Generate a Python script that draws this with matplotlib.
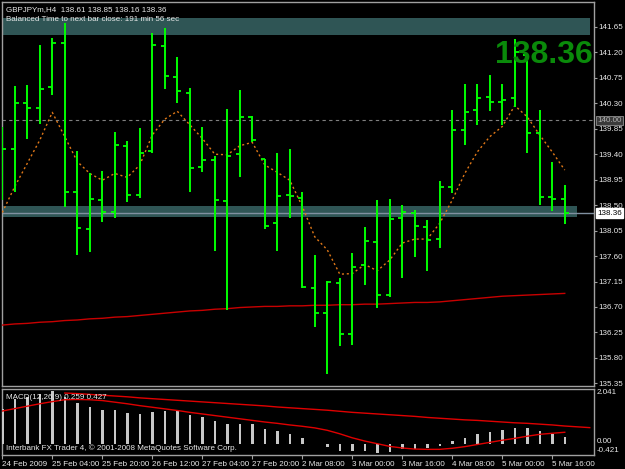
import numpy as np
import matplotlib
matplotlib.use("Agg")
import matplotlib.pyplot as plt
import matplotlib.transforms as mtransforms

plt.rcParams['font.family'] = ['Liberation Sans', 'DejaVu Sans']

# GBPJPYm H4 bars, 24 Feb 2009 12:00 .. 5 Mar 2009 20:00
opens = [139.20, 139.50, 140.31, 140.22, 140.58, 141.37, 138.73, 138.07, 138.59, 138.38,
         139.55, 138.68, 139.46, 141.31, 140.76, 140.49, 139.18, 139.30, 138.58, 139.40,
         140.06, 139.31, 138.18, 138.68, 138.62, 137.04, 136.59, 137.13, 136.22, 137.44,
         137.85, 136.91, 138.28, 138.36, 138.12, 137.90, 138.82, 139.82, 140.18, 140.41,
         140.33, 140.39, 141.15, 139.77, 138.64, 138.61]
highs = [139.88, 140.61, 140.62, 141.33, 141.46, 141.72, 139.46, 139.06, 139.10, 139.79,
         139.64, 139.86, 141.54, 141.64, 141.11, 140.57, 139.89, 139.37, 140.20, 140.54,
         140.08, 139.32, 139.42, 139.49, 138.74, 137.62, 137.16, 137.21, 137.65, 138.12,
         138.59, 138.60, 138.50, 138.41, 138.24, 138.93, 140.18, 140.65, 140.65, 140.80,
         140.65, 141.43, 141.12, 140.18, 139.27, 138.85]
lows = [138.59, 138.74, 139.67, 139.93, 140.45, 138.47, 137.62, 137.67, 138.21, 138.28,
        138.55, 138.62, 139.43, 140.56, 140.31, 138.74, 139.09, 137.69, 136.65, 138.99,
        139.62, 138.07, 137.69, 138.27, 137.04, 136.35, 135.51, 136.01, 136.03, 137.08,
        136.68, 136.87, 137.22, 137.59, 137.34, 137.74, 138.72, 139.56, 139.92, 140.17,
        139.92, 140.24, 139.43, 138.51, 138.40, 138.16]
closes = [139.49, 140.31, 140.21, 140.55, 141.36, 138.73, 138.10, 138.61, 138.38, 139.56,
          138.68, 139.43, 141.33, 140.79, 140.52, 139.16, 139.29, 138.59, 139.37, 140.06,
          139.66, 138.14, 138.67, 138.66, 137.06, 136.60, 137.15, 136.22, 137.41, 137.87,
          136.91, 138.25, 138.37, 138.14, 137.88, 138.82, 139.82, 140.15, 140.39, 140.32,
          140.35, 141.21, 139.78, 138.64, 138.61, 138.36]

ma_fast = [138.37, 138.83, 139.24, 139.65, 140.14, 139.71, 139.27, 139.06, 138.94, 139.06,
           138.99, 139.21, 139.74, 140.02, 140.16, 139.92, 139.68, 139.40, 139.39, 139.55,
           139.61, 139.21, 139.08, 138.94, 138.48, 137.94, 137.71, 137.28, 137.29, 137.45,
           137.34, 137.53, 137.83, 137.90, 137.90, 138.18, 138.59, 139.06, 139.44, 139.71,
           139.89, 140.26, 140.06, 139.74, 139.44, 139.12]
ma_slow = [136.38, 136.40, 136.41, 136.43, 136.44, 136.46, 136.47, 136.49, 136.50, 136.52,
           136.53, 136.55, 136.57, 136.59, 136.61, 136.63, 136.64, 136.66, 136.67, 136.69,
           136.70, 136.71, 136.71, 136.72, 136.72, 136.73, 136.73, 136.74, 136.74, 136.75,
           136.75, 136.76, 136.77, 136.78, 136.78, 136.79, 136.81, 136.83, 136.85, 136.87,
           136.89, 136.90, 136.91, 136.92, 136.93, 136.94]

macd_hist = [1.31, 1.68, 1.74, 1.84, 1.97, 1.74, 1.53, 1.37, 1.27, 1.25,
             1.15, 1.10, 1.19, 1.22, 1.22, 1.06, 0.98, 0.84, 0.75, 0.75,
             0.72, 0.55, 0.47, 0.38, 0.20, -0.02, -0.11, -0.27, -0.27, -0.27,
             -0.34, -0.30, -0.20, -0.20, -0.17, -0.07, 0.10, 0.22, 0.35, 0.45,
             0.51, 0.60, 0.57, 0.47, 0.35, 0.259]
macd_signal = [1.22, 1.31, 1.40, 1.49, 1.57, 1.64, 1.65, 1.64, 1.61, 1.55,
               1.49, 1.42, 1.36, 1.30, 1.24, 1.17, 1.11, 1.05, 0.99, 0.93,
               0.87, 0.81, 0.76, 0.70, 0.65, 0.59, 0.50, 0.37, 0.22, 0.10,
               0.00, -0.10, -0.16, -0.20, -0.21, -0.21, -0.17, -0.11, -0.03, 0.05,
               0.13, 0.20, 0.28, 0.35, 0.39, 0.427]
# second red line in the MACD window, starts at bar 5 and runs past the last bar
macd_line2_start = 5
macd_line2 = [1.89, 1.87, 1.84, 1.81, 1.78, 1.75, 1.71, 1.68, 1.65, 1.62,
              1.59, 1.56, 1.53, 1.50, 1.47, 1.44, 1.41, 1.37, 1.34, 1.31,
              1.28, 1.25, 1.21, 1.17, 1.14, 1.11, 1.08, 1.05, 1.02, 0.98,
              0.95, 0.92, 0.89, 0.87, 0.84, 0.81, 0.78, 0.76, 0.73, 0.70,
              0.66, 0.63, 0.60]

zone_top = (141.51, 141.81)
zone_low = (138.295, 138.485)
zone_top_end = 47.0
zone_low_end = 46.0
level_line = 140.00
last_price = 138.36

price_ticks = [141.65, 141.20, 140.75, 140.30, 139.85, 139.40, 138.95, 138.50,
               138.05, 137.60, 137.15, 136.70, 136.25, 135.80, 135.35]
time_pos = [0, 4, 8, 12, 16, 20, 24, 28, 32, 36, 40, 44]
time_labels = ['24 Feb 2009', '25 Feb 04:00', '25 Feb 20:00', '26 Feb 12:00',
               '27 Feb 04:00', '27 Feb 20:00', '2 Mar 08:00', '3 Mar 00:00',
               '3 Mar 16:00', '4 Mar 08:00', '5 Mar 00:00', '5 Mar 16:00']

W, H = 625, 469
fig = plt.figure(figsize=(W / 100, H / 100), dpi=100, facecolor='black')
ax = fig.add_axes([2 / W, (H - 386) / H, 592 / W, 384 / H], facecolor='black')
ax2 = fig.add_axes([2 / W, (H - 455) / H, 592 / W, 66 / H], facecolor='black')

frame = '#a0a0a0'
txt = '#e8e8e8'
fs = 5.8
for a in (ax, ax2):
    for s in a.spines.values():
        s.set_color(frame)
        s.set_linewidth(1.0)
    a.set_xlim(-0.024, 47.34)

x = np.arange(len(closes))
tick = 0.32

# zones and level lines
ax.fill_between([-1, zone_top_end], zone_top[0], zone_top[1], color='#2f5555', lw=0, zorder=1)
ax.fill_between([-1, zone_low_end], zone_low[0], zone_low[1], color='#2f5555', lw=0, zorder=1)
ax.axhline(level_line, color='#808080', lw=0.8, ls=(0, (3, 3)), zorder=2)
ax.axhline(last_price, color='#8090a0', lw=1.0, zorder=2)

# bars
ax.vlines(x, lows, highs, color='#00ff00', lw=1.4, zorder=4)
ax.hlines(opens, x - tick, x, color='#00ff00', lw=1.3, zorder=4)
ax.hlines(closes, x, x + tick, color='#00ff00', lw=1.3, zorder=4)

ax.plot(x, ma_fast, color='#e07818', lw=1.0, ls=(0, (1.5, 2)), zorder=3)
ax.plot(x, ma_slow, color='#c80000', lw=1.0, zorder=3)

ax.set_ylim(135.303, 142.091)
ax.yaxis.tick_right()
ax.set_yticks(price_ticks)
ax.set_yticklabels([f'{p:.2f}' for p in price_ticks])
ax.tick_params(axis='y', colors=frame, labelcolor=txt, labelsize=fs, length=2, pad=1)
ax.set_xticks([])

ytr = mtransforms.blended_transform_factory(ax.transAxes, ax.transData)
ax.text(1.005, last_price, f'{last_price:.2f}', transform=ytr, fontsize=fs,
        color='black', va='center', ha='left',
        bbox=dict(boxstyle='square,pad=0.15', fc='white', ec='white'), zorder=6)
ax.text(1.005, level_line, f'{level_line:.2f}', transform=ytr, fontsize=fs,
        color='#b0b0b0', va='center', ha='left',
        bbox=dict(boxstyle='square,pad=0.15', fc='#3a3a3a', ec='#909090', lw=0.6), zorder=6)

ax.text(0.007, 0.990, 'GBPJPYm,H4  138.61 138.85 138.16 138.36', transform=ax.transAxes,
        fontsize=fs, color=txt, va='top', ha='left', zorder=7)
ax.text(0.007, 0.964, 'Balanced Time to next bar close: 191 min 56 sec', transform=ax.transAxes,
        fontsize=fs, color=txt, va='top', ha='left', zorder=7)
ax.text(0.998, 0.841, f'{last_price:.2f}', transform=ax.transAxes, fontsize=23,
        fontweight='bold', color='#0a8a0a', va='baseline', ha='right', zorder=7)

# MACD window
ax2.bar(x, macd_hist, width=0.2, color='#c8c8c8', zorder=3)
ax2.plot(x, macd_signal, color='#e00000', lw=1.0, zorder=4)
x2 = np.arange(macd_line2_start, macd_line2_start + len(macd_line2))
ax2.plot(x2, macd_line2, color='#e00000', lw=1.0, zorder=4)
ax2.set_ylim(-0.421, 2.041)
ax2.set_yticks([])
mtr = mtransforms.blended_transform_factory(ax2.transAxes, ax2.transData)
ax2.text(1.005, 1.90, '2.041', transform=mtr, fontsize=fs, color=txt, va='center', ha='left')
ax2.text(1.005, 0.07, '0.00', transform=mtr, fontsize=fs, color=txt, va='center', ha='left')
ax2.text(1.005, -0.26, '-0.421', transform=mtr, fontsize=fs, color=txt, va='center', ha='left')
ax2.text(0.007, 0.93, 'MACD(12,26,9) 0.259 0.427', transform=ax2.transAxes,
         fontsize=fs, color=txt, va='top', ha='left', zorder=6)
ax2.text(0.007, 0.04, 'Interbank FX Trader 4, \u00a9 2001-2008 MetaQuotes Software Corp.',
         transform=ax2.transAxes, fontsize=fs, color=txt, va='bottom', ha='left', zorder=6)

ax2.set_xticks(time_pos)
ax2.set_xticklabels(time_labels, ha='left')
ax2.tick_params(axis='x', colors=frame, labelcolor=txt, labelsize=fs, length=3, pad=1)

fig.savefig('out.png', dpi=100, facecolor='black')
